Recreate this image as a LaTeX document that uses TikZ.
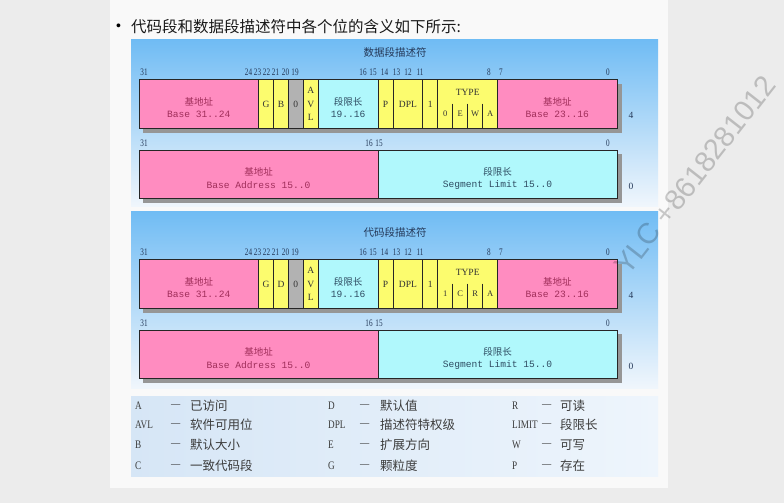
\documentclass[tikz,border=0pt]{standalone}
\usepackage{fontspec}
\setmainfont{Liberation Serif}
\setmonofont{Liberation Mono}
\newfontfamily\cjk{Noto Sans CJK SC}
\newfontfamily\wmfont{Liberation Sans}
\newfontfamily\narrowserif[FakeStretch=0.8]{Liberation Serif}
\newfontfamily\bitserif[FakeStretch=0.72]{Liberation Serif}
\definecolor{bgc}{RGB}{236,236,236}
\definecolor{cardc}{RGB}{249,249,249}
\definecolor{pinkc}{RGB}{255,140,192}
\definecolor{yelc}{RGB}{252,252,110}
\definecolor{grayc}{RGB}{178,178,178}
\definecolor{cyanc}{RGB}{176,248,252}
\definecolor{panelTop}{RGB}{112,188,244}
\definecolor{panelBot}{RGB}{240,246,252}
\definecolor{legL}{RGB}{214,230,246}
\definecolor{legR}{RGB}{238,245,252}
\definecolor{bitc}{RGB}{36,56,88}
\definecolor{pinktext}{RGB}{160,46,90}
\definecolor{cyantext}{RGB}{46,76,98}
\definecolor{shadowc}{RGB}{150,150,150}
\definecolor{legtext}{RGB}{60,60,60}
\tikzset{
  cellbox/.style={draw=black!85, line width=0.8pt, inner sep=0pt},
  bitnum/.style={font=\bitserif\fontsize{10}{10}\selectfont, text=bitc, inner sep=0pt},
  ptitle/.style={font=\cjk\fontsize{10.5}{11}\selectfont, text=bitc, inner sep=0pt},
  cjkpink/.style={font=\cjk\fontsize{9.5}{10}\selectfont, text=pinktext, inner sep=0pt},
  monopink/.style={font=\ttfamily\fontsize{9.6}{10}\selectfont, text=pinktext, inner sep=0pt},
  cjkcyan/.style={font=\cjk\fontsize{9.5}{10}\selectfont, text=cyantext, inner sep=0pt},
  monocyan/.style={font=\ttfamily\fontsize{9.6}{10}\selectfont, text=cyantext, inner sep=0pt},
  letter/.style={font=\fontsize{9.5}{10}\selectfont, text=black!80, inner sep=0pt},
  sidenum/.style={font=\fontsize{9.5}{10}\selectfont, text=bitc, inner sep=0pt},
  legletter/.style={font=\narrowserif\fontsize{11.5}{12}\selectfont, text=legtext, inner sep=0pt, anchor=west},
  legcjk/.style={font=\cjk\fontsize{12.5}{13}\selectfont, text=legtext, inner sep=0pt, anchor=west},
}
% name, left, right, top, bottom, colour
\newcommand\fieldbox[6]{%
  \pgfmathsetmacro\fw{#3-#2}%
  \pgfmathsetmacro\fh{#5-#4}%
  \pgfmathsetmacro\fx{(#2+#3)/2}%
  \pgfmathsetmacro\fy{(#4+#5)/2}%
  \node[cellbox, fill=#6, minimum width=\fw pt, minimum height=\fh pt] (#1) at (\fx,\fy) {};}
% prefix, title, B/D letter, t1, t2, t3, t4, shift
\newcommand\descpanel[8]{%
\begin{scope}[shift={(0,#8)}]
  \node[ptitle] (#1-title) at (395,52.5) {#2};
  \foreach \b/\x in {31/144,24/248.5,23/257.5,22/266.5,21/275.5,20/285.5,19/295,16/363,15/373,14/384.5,13/396.5,12/408,11/420,8/489,7/501,0/608}
    \node[bitnum] (#1-b\b) at (\x,72) {\b};
  \fill[shadowc] (143,83.5) rectangle (621.5,132.5);
  \fieldbox{#1-base2}{139}{258.52}{79.5}{128.5}{pinkc}
  \fieldbox{#1-g}{258.52}{273.46}{79.5}{128.5}{yelc}
  \fieldbox{#1-db}{273.46}{288.40}{79.5}{128.5}{yelc}
  \fieldbox{#1-z}{288.40}{303.34}{79.5}{128.5}{grayc}
  \fieldbox{#1-avl}{303.34}{318.28}{79.5}{128.5}{yelc}
  \fieldbox{#1-lim1}{318.28}{378.04}{79.5}{128.5}{cyanc}
  \fieldbox{#1-p}{378.04}{392.98}{79.5}{128.5}{yelc}
  \fieldbox{#1-dpl}{392.98}{422.86}{79.5}{128.5}{yelc}
  \fieldbox{#1-s}{422.86}{437.80}{79.5}{128.5}{yelc}
  \fieldbox{#1-type}{437.80}{497.56}{79.5}{128.5}{yelc}
  \fieldbox{#1-base1}{497.56}{617.08}{79.5}{128.5}{pinkc}
  \draw[black!85, line width=0.8pt] (452.74,103.5) -- (452.74,128.5)
    (467.68,103.5) -- (467.68,128.5) (482.62,103.5) -- (482.62,128.5);
  \node[cjkpink] (#1-base2-zh) at (198.8,101.5) {基地址};
  \node[monopink] (#1-base2-en) at (198.8,114.5) {Base 31..24};
  \node[letter] (#1-g-t) at (#1-g) {G};
  \node[letter] (#1-db-t) at (#1-db) {#3};
  \node[letter] (#1-z-t) at (#1-z) {0};
  \node[letter, align=center, font=\fontsize{9.5}{13.3}\selectfont] (#1-avl-t) at (#1-avl) {A\\V\\L};
  \node[cjkcyan] (#1-lim1-zh) at (348.2,101.5) {段限长};
  \node[monocyan] (#1-lim1-en) at (348.2,114.5) {19..16};
  \node[letter] (#1-p-t) at (#1-p) {P};
  \node[letter] (#1-dpl-t) at (#1-dpl) {DPL};
  \node[letter] (#1-s-t) at (#1-s) {1};
  \node[letter] (#1-type-t) at (467.68,92) {TYPE};
  \node[letter, font=\fontsize{8.5}{9}\selectfont] (#1-t3) at (445.27,114) {#4};
  \node[letter, font=\fontsize{8.5}{9}\selectfont] (#1-t2) at (460.21,114) {#5};
  \node[letter, font=\fontsize{8.5}{9}\selectfont] (#1-t1) at (475.15,114) {#6};
  \node[letter, font=\fontsize{8.5}{9}\selectfont] (#1-t0) at (490.09,114) {#7};
  \node[cjkpink] (#1-base1-zh) at (557.3,101.5) {基地址};
  \node[monopink] (#1-base1-en) at (557.3,114.5) {Base 23..16};
  \node[sidenum] (#1-four) at (631,115.5) {4};
  % second row
  \node[bitnum] (#1-c31) at (144,143) {31};
  \node[bitnum] (#1-c16) at (369,143) {16};
  \node[bitnum] (#1-c15) at (379,143) {15};
  \node[bitnum] (#1-c0) at (608,143) {0};
  \fill[shadowc] (143,154) rectangle (621.5,202.5);
  \fieldbox{#1-base0}{139}{378.04}{150}{198.5}{pinkc}
  \fieldbox{#1-lim0}{378.04}{617.08}{150}{198.5}{cyanc}
  \node[cjkpink] (#1-base0-zh) at (258.5,172) {基地址};
  \node[monopink] (#1-base0-en) at (258.5,185) {Base Address 15..0};
  \node[cjkcyan] (#1-lim0-zh) at (497.5,172) {段限长};
  \node[monocyan] (#1-lim0-en) at (497.5,185) {Segment Limit 15..0};
  \node[sidenum] (#1-zero) at (631,186.5) {0};
\end{scope}}
% name, x letter, x dash, x text, y, letter, text
\newcommand\legitem[7]{%
  \node[legletter] (#1-k) at (#2,#5) {#6};
  \node[legletter] (#1-d) at (#3,#5) {—};
  \node[legcjk] (#1-v) at (#4,#5) {#7};}
\begin{document}
\begin{tikzpicture}[x=1pt,y=-1pt]
\useasboundingbox (0,0) rectangle (784,503);
\clip (0,0) rectangle (784,503);
\fill[bgc] (0,0) rectangle (784,503);
\fill[cardc] (110,0) rectangle (668,488);
\node[font=\wmfont\fontsize{14}{14}\selectfont, inner sep=0pt] (bullet) at (118.5,27) {•};
\node[font=\cjk\fontsize{15.5}{16}\selectfont, anchor=west, inner sep=0pt, text=black!90] (heading) at (131,27) {代码段和数据段描述符中各个位的含义如下所示:};
\fill[top color=panelTop, bottom color=panelBot] (131,40) rectangle (658,206);
\fill[top color=panelTop, bottom color=panelBot] (131,211) rectangle (658,388);
\descpanel{dp}{数据段描述符}{B}{0}{E}{W}{A}{0}
\descpanel{cp}{代码段描述符}{D}{1}{C}{R}{A}{180}
\fill[left color=legL, right color=legR] (131,396) rectangle (658,476);
\legitem{la}{135}{171}{190}{406}{A}{已访问}
\legitem{lavl}{135}{171}{190}{425}{AVL}{软件可用位}
\legitem{lb}{135}{171}{190}{445}{B}{默认大小}
\legitem{lc}{135}{171}{190}{466}{C}{一致代码段}
\legitem{ld}{328}{360}{380}{406}{D}{默认值}
\legitem{ldpl}{328}{360}{380}{425}{DPL}{描述符特权级}
\legitem{le}{328}{360}{380}{445}{E}{扩展方向}
\legitem{lg}{328}{360}{380}{466}{G}{颗粒度}
\legitem{lr}{512}{542}{560}{406}{R}{可读}
\legitem{llim}{512}{542}{560}{425}{LIMIT}{段限长}
\legitem{lw}{512}{542}{560}{445}{W}{可写}
\legitem{lp}{512}{542}{560}{466}{P}{存在}
\node[font=\wmfont\fontsize{29}{29}\selectfont, rotate=52, anchor=base west, inner sep=0pt, text=black, opacity=0.2] (watermark) at (628,277) {YLC +8618281012};
\end{tikzpicture}
\end{document}
